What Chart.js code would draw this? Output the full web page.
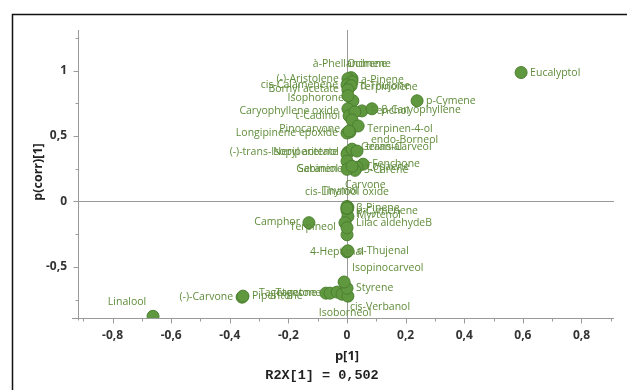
<!DOCTYPE html>
<html>
<head>
<meta charset="utf-8">
<script src="https://cdn.jsdelivr.net/npm/chart.js@4/dist/chart.umd.min.js"></script>
<style>
html,body{margin:0;padding:0;background:#fff;}
#wrap{width:627px;height:390px;position:relative;}
</style>
</head>
<body>
<div id="wrap"><canvas id="c" width="627" height="390"></canvas></div>
<script>
// ---- data ----
const names = [
  "Eucalyptol","p-Cymene","Linalool","(-)-Carvone","Piperitone","Camphor",
  "Tagetenone","Tagetone","Valencene","Isoborneol","cis-Verbanol","Styrene",
  "Isopinocarveol","4-Heptanal","α-Thujenal","Myrcene","β-Pinene","p-Cymenene",
  "Myrtenol","Terpineol","Lilac aldehydeB","Carvone","cis-Linalool oxide","Thymol",
  "à-Phellandrene","Ocimene","(-)-Aristolene","a-Pinene","cis-Calamenene","Terpinolene",
  "α-Thujone","Bornyl acetate","Isophorone","Limonene","Caryophyllene oxide","τ-Cadinol",
  "Fenchol","β-Caryophyllene","Camphene","Citronellal","Terpinen-4-ol","endo-Borneol",
  "Longipinene epoxide","Pinocarvone","(-)-trans-Isopiperitenol","Neryl acetate","Geranial","trans-Carveol",
  "Nerol","Fenchone","Copaene","3-Carene","Geraniol","Sabinene"
];
const p1 = [
  0.594, 0.239, -0.662, -0.358, -0.355, -0.130,
  -0.072, -0.058, -0.034, -0.017, 0.003, 0.000,
  -0.010, 0.000, 0.003, 0.000, 0.000, 0.000,
  0.003, -0.007, 0.000, 0.003, 0.000, 0.000,
  0.017, 0.014, 0.003, 0.017, 0.000, 0.010,
  0.014, 0.003, 0.020, 0.003, 0.003, 0.007,
  0.051, 0.085, 0.027, 0.017, 0.038, 0.010,
  0.000, 0.007, 0.003, 0.000, 0.017, 0.034,
  0.000, 0.055, 0.034, 0.027, 0.000, 0.017
];
const pcorr = [
  0.985, 0.769, -0.877, -0.731, -0.723, -0.162,
  -0.700, -0.700, -0.692, -0.708, -0.723, -0.662,
  -0.615, -0.385, -0.377, -0.254, -0.038, -0.069,
  -0.115, -0.162, -0.200, -0.046, -0.054, -0.050,
  0.938, 0.946, 0.938, 0.915, 0.892, 0.877,
  0.885, 0.854, 0.769, 0.808, 0.708, 0.654,
  0.692, 0.708, 0.685, 0.623, 0.577, 0.531,
  0.523, 0.538, 0.377, 0.362, 0.400, 0.385,
  0.308, 0.285, 0.262, 0.238, 0.246, 0.269
];
const xTickValues = [-0.9,-0.8,-0.7,-0.6,-0.5,-0.4,-0.3,-0.2,-0.1,0,0.1,0.2,0.3,0.4,0.5,0.6,0.7,0.8,0.9];
const xTickLabels = ["","-0,8","","-0,6","","-0,4","","-0,2","","0","","0,2","","0,4","","0,6","","0,8",""];
const yTickValues = [-0.75,-0.5,-0.25,0,0.25,0.5,0.75,1,1.25];
const yTickLabels = ["","-0,5","","0","","0,5","","1",""];
const xTitle = "p[1]";
const xSubTitle = "R2X[1] = 0,502";
const yTitle = "p(corr)[1]";

// ---- label placement (style only) : [mode, dx, dy] ----
const labelPlace = [
  ['r',0,0],['r',0,0],['c',-26,-14],['l',0,0],['r',0,0],['l',0,-1],
  ['l',0,0],['l',0,0],['n',0,0],['c',3,19],['s',2,11],['r',0,0],
  ['s',8,-14],['s',-37,0],['r',0,0],['n',0,0],['r',0,2],['r',0,0],
  ['r',0,-2],['l',0,4],['r',0,-5],['s',-3,-22],['c',0,-17],['s',-25,-17],
  ['c',-2,-15],['s',-4,-14],['l',0,0],['r',0,-2],['l',0,0],['r',0,0],
  ['r',0,0],['l',0,-1],['l',0,-3],['n',0,0],['l',0,2],['l',0,0],
  ['r',0,0],['r',0,1],['n',0,0],['n',0,0],['r',0,3],['r',12,8],
  ['l',0,0],['l',0,-2],['l',0,0],['l',0,-2],['r',0,-2],['r',0,-4],
  ['n',0,0],['r',0,0],['r',0,0],['r',0,0],['l',0,0],['l',0,3]
];

const LEFT = 78, RIGHT_PAD = 13, TOP = 30, BOTTOM_H = 72;
const AXIS_COL = '#9a9a9a';

const points = p1.map((v,i)=>({x:v,y:pcorr[i]}));

const decor = {
  id:'decor',
  beforeDraw(chart){
    const ctx = chart.ctx;
    ctx.save();
    ctx.strokeStyle = '#111';
    ctx.lineWidth = 1.5;
    ctx.strokeRect(12.5, 14.5, 700, 500);
    ctx.restore();
  },
  beforeDatasetsDraw(chart){
    const {ctx, chartArea:a, scales:{x,y}} = chart;
    ctx.save();
    ctx.strokeStyle = AXIS_COL;
    ctx.lineWidth = 1;
    const x0 = Math.round(x.getPixelForValue(0))+0.5;
    const y0 = Math.round(y.getPixelForValue(0))+0.5;
    ctx.beginPath();
    ctx.moveTo(x0, a.top); ctx.lineTo(x0, a.bottom);
    ctx.moveTo(a.left, y0); ctx.lineTo(a.right, y0);
    ctx.stroke();
    const lx = a.left+0.5, by = a.bottom+0.5;
    ctx.beginPath();
    ctx.moveTo(lx, a.top); ctx.lineTo(lx, by+2);
    ctx.moveTo(a.left-6, by); ctx.lineTo(a.right, by);
    ctx.stroke();
    ctx.beginPath();
    xTickValues.forEach((v,i)=>{
      const px = Math.round(x.getPixelForValue(v))+0.5;
      const len = xTickLabels[i] ? 5 : 3;
      ctx.moveTo(px, by); ctx.lineTo(px, by+len);
    });
    yTickValues.forEach((v,i)=>{
      const py = Math.round(y.getPixelForValue(v))+0.5;
      const len = yTickLabels[i] ? 5 : 3;
      ctx.moveTo(lx, py); ctx.lineTo(lx-len, py);
    });
    ctx.stroke();
    ctx.fillStyle = '#222';
    ctx.textAlign = 'center';
    ctx.textBaseline = 'middle';
    ctx.font = 'bold 13px "Open Sans", "Noto Sans", sans-serif';
    ctx.fillText(xTitle, x.getPixelForValue(0), 356);
    ctx.font = 'bold 13.5px "Liberation Mono", "DejaVu Sans Mono", monospace';
    ctx.fillText(xSubTitle, 322, 376);
    ctx.save();
    ctx.translate(38, 172);
    ctx.rotate(-Math.PI/2);
    ctx.font = 'bold 12.5px "Open Sans", "Noto Sans", sans-serif';
    ctx.fillText(yTitle, 0, 0);
    ctx.restore();
    ctx.restore();
  },
  afterDatasetsDraw(chart){
    const ctx = chart.ctx;
    const meta = chart.getDatasetMeta(0);
    ctx.save();
    ctx.font = '10.5px "Open Sans", "Noto Sans", sans-serif';
    ctx.fillStyle = '#5f8c3a';
    ctx.textBaseline = 'middle';
    meta.data.forEach((el,i)=>{
      const [m,dx,dy] = labelPlace[i];
      if (m==='n' || !names[i]) return;
      let tx = el.x + dx, ty = el.y + dy;
      if (m==='r'){ ctx.textAlign='left'; tx += 9; }
      else if (m==='l'){ ctx.textAlign='right'; tx -= 9; }
      else if (m==='c'){ ctx.textAlign='center'; }
      else { ctx.textAlign='left'; }
      ctx.fillText(names[i], tx, ty);
    });
    ctx.restore();
  }
};

new Chart(document.getElementById('c'), {
  type:'scatter',
  data:{ datasets:[{
    data: points,
    backgroundColor:'#5f983f',
    borderColor:'#4c7f30',
    borderWidth:1,
    pointRadius:6,
    pointHoverRadius:6
  }]},
  options:{
    responsive:false,
    devicePixelRatio:1,
    animation:false,
    events:[],
    layout:{padding:{left:0,top:TOP,right:RIGHT_PAD,bottom:0}},
    plugins:{legend:{display:false},tooltip:{enabled:false}},
    scales:{
      x:{
        type:'linear', min:-0.918, max:0.911,
        afterBuildTicks(s){ s.ticks = xTickValues.map(v=>({value:v})); },
        afterFit(s){ s.height = BOTTOM_H; },
        grid:{display:false, drawTicks:false},
        border:{display:false},
        ticks:{
          autoSkip:false, maxRotation:0, padding:10,
          color:'#333', font:{family:'"Open Sans", "Noto Sans", sans-serif', size:12, weight:'bold'},
          callback:(v,i)=>xTickLabels[i]
        }
      },
      y:{
        type:'linear', min:-0.89, max:1.31,
        afterBuildTicks(s){ s.ticks = yTickValues.map(v=>({value:v})); },
        afterFit(s){ s.width = LEFT; },
        grid:{display:false, drawTicks:false},
        border:{display:false},
        ticks:{
          autoSkip:false, padding:11,
          color:'#333', font:{family:'"Open Sans", "Noto Sans", sans-serif', size:12, weight:'bold'},
          callback:(v,i)=>yTickLabels[i]
        }
      }
    }
  },
  plugins:[decor]
});
</script>
</body>
</html>
